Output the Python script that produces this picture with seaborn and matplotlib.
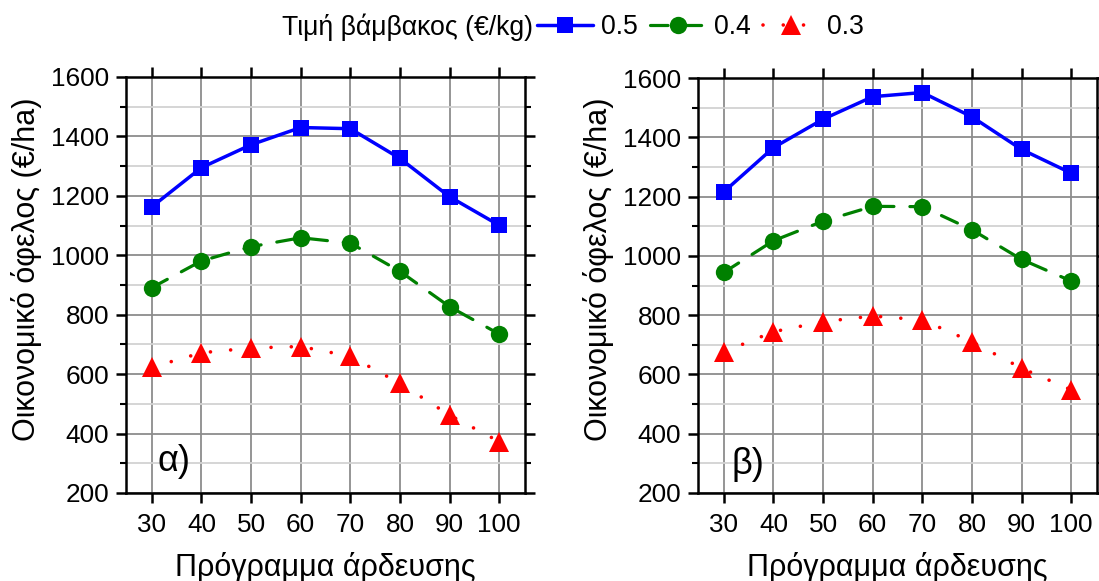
import numpy as np
import pandas as pd
import matplotlib
matplotlib.use("Agg")
import matplotlib.pyplot as plt
from matplotlib.ticker import MultipleLocator
import seaborn as sns

# ---- data ----
irrigation = [30, 40, 50, 60, 70, 80, 90, 100]
price_labels = ["0.5", "0.4", "0.3"]

a_p05 = [1163, 1295, 1372, 1430, 1426, 1326, 1197, 1101]
a_p04 = [891, 981, 1029, 1059, 1041, 946, 827, 735]
a_p03 = [623, 672, 688, 693, 660, 569, 462, 373]

b_p05 = [1216, 1365, 1461, 1537, 1551, 1469, 1359, 1279]
b_p04 = [944, 1051, 1117, 1167, 1166, 1088, 988, 915]
b_p03 = [676, 744, 778, 797, 784, 710, 621, 548]

panel_labels = ["α)", "β)"]
legend_title = "Τιμή βάμβακος (€/kg)"
xlabel = "Πρόγραμμα άρδευσης"
ylabel = "Οικονομικό όφελος (€/ha)"

colors = ["#0000ff", "#008000", "#ff0000"]
markers = ["s", "o", "^"]
msizes = [11, 12.5, 14]
lwidths = [2.5, 2.3, 2.6]
styles = ["-", (0, (5.5, 5)), (0, (0.01, 5.6))]

sns.set_theme(style="ticks")
plt.rcParams['font.family'] = ['Liberation Sans', 'DejaVu Sans']
plt.rcParams['text.color'] = 'black'
plt.rcParams['axes.labelcolor'] = 'black'
plt.rcParams['xtick.color'] = 'black'
plt.rcParams['ytick.color'] = 'black'

W, H = 1099, 581
fig = plt.figure(figsize=(W / 100, H / 100), dpi=100)
ax1 = fig.add_axes([126 / W, (H - 493) / H, 399 / W, 416 / H])
ax2 = fig.add_axes([698 / W, (H - 493) / H, 399 / W, 415 / H])

panels = [(ax1, [a_p05, a_p04, a_p03]), (ax2, [b_p05, b_p04, b_p03])]
label_pos = [(0.08, 0.075), (0.085, 0.068)]

for i, (ax, series) in enumerate(panels):
    for vals, lab, c, m, ms, lw, ls in zip(series, price_labels, colors, markers,
                                           msizes, lwidths, styles):
        df = pd.DataFrame({"x": irrigation, "y": vals})
        sns.lineplot(data=df, x="x", y="y", ax=ax, color=c, marker=m,
                     markersize=ms, markeredgewidth=0, linewidth=lw,
                     label=lab, legend=False)
        ax.lines[-1].set_linestyle(ls)
        ax.lines[-1].set_dash_capstyle("round")
    ax.set_xlim(24.8, 105.2)
    ax.set_ylim(200, 1600)
    ax.xaxis.set_major_locator(MultipleLocator(10))
    ax.yaxis.set_major_locator(MultipleLocator(200))
    ax.yaxis.set_minor_locator(MultipleLocator(100))
    ax.set_axisbelow(True)
    ax.grid(which="major", axis="both", color="#8c8c8c", linewidth=1.3)
    ax.grid(which="minor", axis="y", color="#d2d2d2", linewidth=1.3)
    for sp in ax.spines.values():
        sp.set_linewidth(1.8)
        sp.set_color("black")
        sp.set_visible(True)
    ax.tick_params(which="major", direction="out", length=7, width=1.8,
                   labelsize=18.8, top=True, right=True, colors="black")
    ax.tick_params(axis="x", which="major", pad=7.5)
    ax.tick_params(axis="y", which="major", pad=5)
    ax.tick_params(which="minor", direction="out", length=4, width=1.5,
                   right=True, left=True)
    ax.tick_params(axis="x", which="minor", bottom=False, top=False)
    ax.set_xlabel(xlabel, fontsize=22, labelpad=11)
    ax.set_ylabel(ylabel, fontsize=22)
    ax.yaxis.set_label_coords(-0.21, 0.538)
    ax.text(label_pos[i][0], label_pos[i][1], panel_labels[i], transform=ax.transAxes,
            fontsize=26, ha="left", va="center")

handles = ax1.lines[:3]
fig.text(533 / W, 1 - 27 / H, legend_title, fontsize=19.2, ha="right", va="center")
fig.legend(handles, price_labels, loc="center left",
           bbox_to_anchor=(537 / W, 1 - 27 / H), ncol=3, frameon=False,
           fontsize=19.2, handlelength=2.1, handletextpad=0.3,
           columnspacing=0.45, borderpad=0, borderaxespad=0)

fig.savefig("out.png", dpi=100)
